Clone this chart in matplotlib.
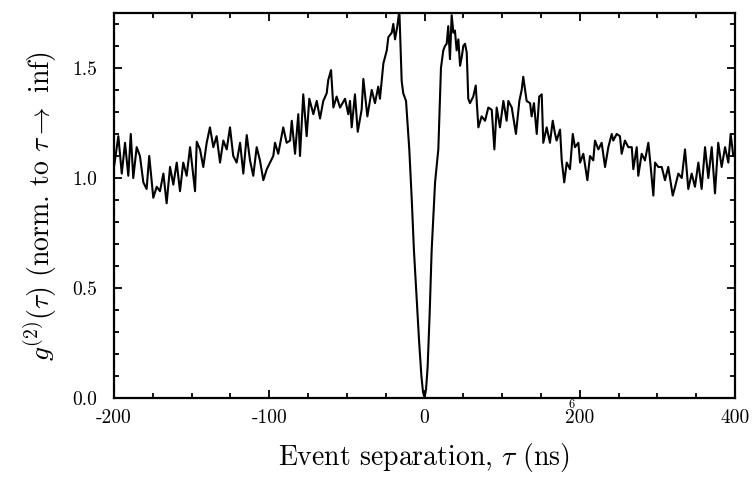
"""g2(tau) antibunching trace, redrawn from a scanned figure."""
import matplotlib
matplotlib.use('Agg')
import matplotlib.pyplot as plt
from matplotlib.ticker import MultipleLocator, FixedLocator, FixedFormatter

plt.rcParams['font.family'] = 'serif'
plt.rcParams['font.serif'] = ['cmr10', 'DejaVu Serif']
plt.rcParams['mathtext.fontset'] = 'cm'
plt.rcParams['axes.unicode_minus'] = False
plt.rcParams['axes.formatter.use_mathtext'] = True

# event separation (ns) and normalised coincidence counts
tau = [
    -200, -197.2, -195.0, -192.9, -190.8, -189.2, -187.6, -185.4, -183.3, -181.1,
    -179.0, -177.3, -174.7, -172.5, -170.4, -168.2, -166.1, -163.9, -161.8, -159.6,
    -157.5, -155.4, -153.2, -151.0, -147.8, -146.7, -144.6, -142.5, -140.3, -138.2,
    -136.0, -133.9, -131.7, -129.6, -127.4, -125.3, -123.2, -121.0, -118.8, -116.7,
    -114.5, -112.4, -110.3, -108.1, -106.0, -103.8, -101.6, -99.5, -97.4, -96.3,
    -94.2, -91.0, -88.8, -86.6, -85.5, -83.4, -81.3, -80.2, -78.1, -75.9,
    -74.2, -71.6, -69.4, -67.3, -65.2, -63.0, -62.0, -60.2, -58.7, -56.6,
    -54.4, -51.2, -49.1, -48.0, -46.9, -44.8, -43.0, -40.5, -39.4, -36.8,
    -34.0, -31.9, -29.8, -28.7, -26.5, -24.3, -23.3, -21.1, -20.1, -19.0,
    -17.5, -16.2, -14.7, -13.7, -11.9, -9.8, -8.2, -6.8, -5.0, -3.5,
    -2.0, -1.0, 0.0, 1.0, 2.0, 3.3, 4.6, 6.8, 8.9, 10.6,
    12.1, 13.2, 14.3, 15.3, 16.4, 17.5, 18.6, 19.6, 20.7, 21.8,
    22.9, 24.0, 25.0, 26.1, 27.2, 28.2, 29.3, 31.4, 33.0, 34.7,
    36.8, 39.0, 41.1, 43.3, 45.0, 46.5, 48.6, 50.8, 52.9, 54.0,
    56.2, 58.9, 61.1, 62.6, 63.6, 65.8, 68.0, 69.0, 70.5, 72.3,
    73.9, 75.5, 76.5, 78.7, 80.8, 82.6, 84.1, 85.1, 87.3, 88.4,
    90.0, 91.6, 93.7, 95.5, 96.9, 99.1, 100.2, 102.3, 104.9, 106.6,
    108.7, 109.8, 112.0, 114.1, 116.3, 118.4, 120.6, 121.6, 123.8, 125.9,
    127.0, 129.1, 131.3, 133.5, 134.5, 136.7, 137.7, 139.9, 142.0, 144.2,
    145.7, 147.4, 148.5, 150.6, 152.8, 154.9, 157.0, 159.9, 161.4, 163.5,
    165.7, 167.8, 169.9, 172.1, 174.2, 176.4, 178.5, 180.7, 182.8, 185.0,
    187.1, 189.2, 191.4, 193.6, 195.7, 197.2, 198.9, 200,
]
g2 = [
    1.05, 1.19, 1.02, 1.16, 1.01, 1.20, 1.00, 1.14, 1.10, 0.98,
    0.95, 1.10, 0.91, 0.96, 0.94, 1.02, 0.885, 1.05, 0.97, 1.07,
    0.94, 1.07, 1.01, 1.14, 0.94, 1.165, 1.13, 1.05, 1.16, 1.23,
    1.14, 1.19, 1.07, 1.17, 1.13, 1.23, 1.10, 1.07, 1.16, 1.02,
    1.195, 1.08, 1.01, 1.14, 1.08, 0.99, 1.04, 1.07, 1.10, 1.16,
    1.11, 1.23, 1.16, 1.17, 1.26, 1.11, 1.29, 1.10, 1.38, 1.19,
    1.36, 1.29, 1.35, 1.27, 1.35, 1.385, 1.445, 1.49, 1.32, 1.37,
    1.32, 1.36, 1.29, 1.35, 1.23, 1.38, 1.21, 1.31, 1.45, 1.28,
    1.40, 1.34, 1.415, 1.36, 1.52, 1.58, 1.64, 1.66, 1.70, 1.63,
    1.69, 1.76, 1.44, 1.385, 1.35, 1.13, 0.90, 0.67, 0.45, 0.26,
    0.10, 0.03, 0.0, 0.04, 0.14, 0.38, 0.67, 0.98, 1.13, 1.50,
    1.58, 1.60, 1.61, 1.69, 1.54, 1.74, 1.66, 1.67, 1.58, 1.63,
    1.51, 1.55, 1.60, 1.61, 1.57, 1.36, 1.34, 1.37, 1.42, 1.23,
    1.28, 1.26, 1.32, 1.31, 1.13, 1.32, 1.23, 1.35, 1.26, 1.35,
    1.32, 1.20, 1.35, 1.40, 1.46, 1.35, 1.34, 1.28, 1.34, 1.20,
    1.37, 1.38, 1.16, 1.23, 1.16, 1.26, 1.20, 1.17, 1.22, 1.08,
    0.98, 1.07, 1.04, 1.20, 1.14, 1.16, 1.07, 1.11, 0.99, 1.10,
    1.08, 1.17, 1.13, 1.16, 1.05, 1.14, 1.20, 1.17, 1.20, 1.19,
    1.11, 1.17, 1.14, 1.14, 1.04, 1.14, 1.01, 1.11, 1.08, 1.16,
    1.05, 0.92, 1.07, 1.05, 1.05, 0.99, 1.05, 0.92, 0.96, 1.02,
    1.00, 1.13, 0.95, 1.02, 0.96, 1.07, 0.95, 1.14, 1.00, 1.14,
    0.93, 1.16, 1.05, 1.14, 1.07, 1.20, 1.10, 1.10,
]

# tick labels exactly as printed on the original axis
xtick_pos = [-200, -100, 0, 100, 200]
xtick_labels = ['-200', '-100', '0', '200', '400']
ytick_pos = [0.0, 0.5, 1.0, 1.5]
ytick_labels = ['0.0', '0.5', '1.0', '1.5']

fig = plt.figure(figsize=(7.53, 4.79), dpi=100)
ax = fig.add_axes([0.1514, 0.169, 0.8247, 0.804])

ax.plot(tau, g2, color='black', lw=1.5)

ax.set_xlim(-200, 200)
ax.set_ylim(0, 1.75)

ax.xaxis.set_major_locator(FixedLocator(xtick_pos))
ax.xaxis.set_major_formatter(FixedFormatter(xtick_labels))
ax.xaxis.set_minor_locator(MultipleLocator(25))
ax.yaxis.set_major_locator(FixedLocator(ytick_pos))
ax.yaxis.set_major_formatter(FixedFormatter(ytick_labels))
ax.yaxis.set_minor_locator(MultipleLocator(0.1))

ax.tick_params(which='both', direction='in', top=True, right=True,
               width=1.3, labelsize=14)
ax.tick_params(which='major', length=6)
ax.tick_params(which='minor', length=3.5)
ax.tick_params(axis='x', pad=8)
ax.tick_params(axis='y', pad=12)
for s in ax.spines.values():
    s.set_linewidth(1.6)

# stray glyph sitting on top of the "200" label in the original
ax.annotate('6', xy=(95, -0.018), xycoords=('data', 'axes fraction'),
            fontsize=9, ha='center', va='center')

ax.set_xlabel(r'Event separation, $\tau$ (ns)', fontsize=20, labelpad=10)
ax.set_ylabel(r'$g^{(2)}(\tau)$ (norm. to $\tau \rightarrow$ inf)',
              fontsize=20, labelpad=10)

fig.savefig('out.png', dpi=100)
